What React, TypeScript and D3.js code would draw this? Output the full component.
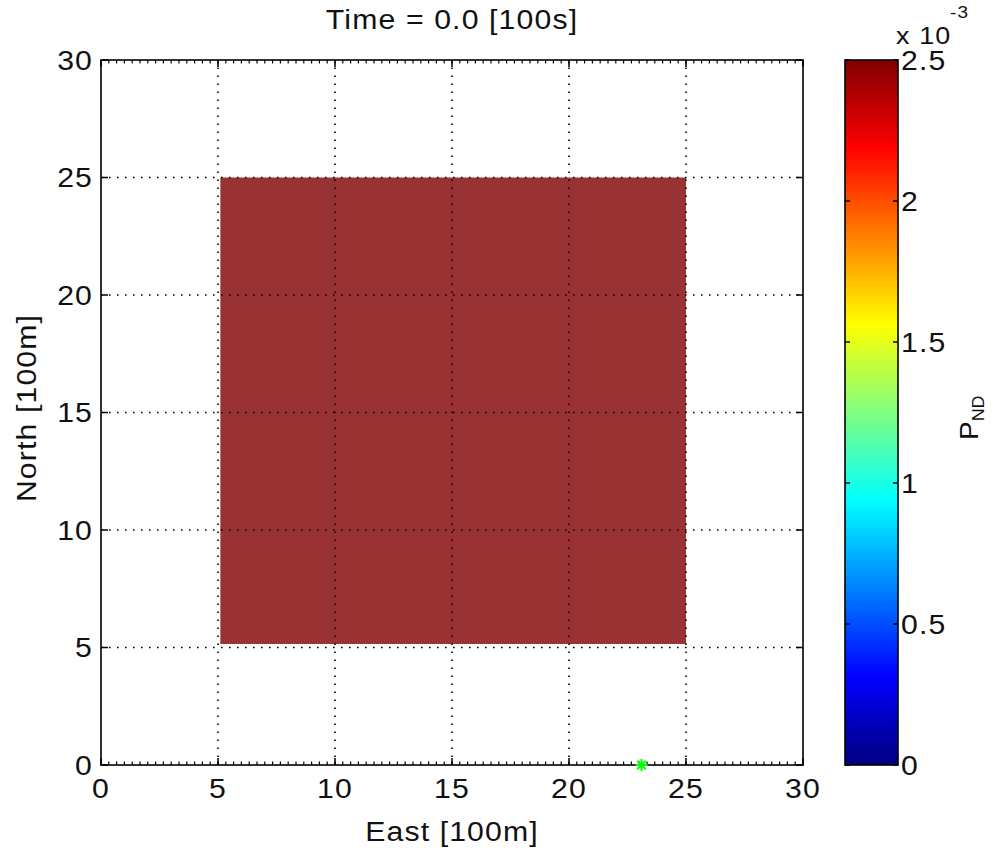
import React from "react";
import * as d3 from "d3";

// axis ticks (in units of 100 m)
const xTicks = [0, 5, 10, 15, 20, 25, 30];
const yTicks = [0, 5, 10, 15, 20, 25, 30];
// colorbar ticks (x 10^-3)
const cbTicks = [0, 0.5, 1, 1.5, 2, 2.5];
const cbTickLabels = ["0", "0.5", "1", "1.5", "2", "2.5"];

// search region (east/north extent) and its P_ND value (x 10^-3)
const regionEast = [5.1, 25];
const regionNorth = [5.15, 25];
const regionValue = 2.5;

// sensor position
const sensorEast = [23.1];
const sensorNorth = [0];

const W = 995, H = 854;
const plot = { left: 101, right: 803, top: 60, bottom: 765 };
const cb = { left: 845, right: 898 };
const FONT = "'Liberation Sans', Arial, Helvetica, sans-serif";
const SX = 1.12; // the original text is a bit stretched horizontally

const jet = (t: number) => {
  const c = (v: number) => Math.max(0, Math.min(1, v));
  const r = c(1.5 - Math.abs(4 * t - 3));
  const g = c(1.5 - Math.abs(4 * t - 2));
  const b = c(1.5 - Math.abs(4 * t - 1));
  return d3.rgb(r * 255, g * 255, b * 255).formatHex();
};

function Txt(props: { x: number; y: number; anchor?: string; rotate?: number; size?: number; children: any }) {
  const { x, y, anchor = "middle", rotate = 0, size = 27 } = props;
  return (
    <g transform={`translate(${x},${y}) rotate(${rotate}) scale(${SX},1)`}>
      <text x={0} y={0} textAnchor={anchor} fontFamily={FONT} fontSize={size} letterSpacing={1} fill="#111">
        {props.children}
      </text>
    </g>
  );
}

export default function App() {
  const x = d3.scaleLinear().domain([0, 30]).range([plot.left, plot.right]);
  const y = d3.scaleLinear().domain([0, 30]).range([plot.bottom, plot.top]);
  const cbY = d3.scaleLinear().domain([0, 2.5]).range([plot.bottom, plot.top]);
  const colorT = d3.scaleLinear().domain([0, 2.5]).range([0, 1]).clamp(true);

  const minor = d3.range(0, 30.001, 1 / 3);
  const stops = d3.range(0, 1.0001, 1 / 64);
  const tickLen = 7;

  return (
    <svg width={W} height={H} style={{ position: "absolute", left: 0, top: 0, background: "#fff" }}>
      <defs>
        <linearGradient id="jet" x1="0" y1="1" x2="0" y2="0">
          {stops.map((t, i) => (
            <stop key={i} offset={t} stopColor={jet(t)} />
          ))}
        </linearGradient>
      </defs>
      <rect width={W} height={H} fill="#fff" />

      {/* search region */}
      <rect
        x={x(regionEast[0])}
        y={y(regionNorth[1])}
        width={x(regionEast[1]) - x(regionEast[0])}
        height={y(regionNorth[0]) - y(regionNorth[1])}
        fill={jet(colorT(regionValue))}
        fillOpacity={0.8}
      />

      {/* grid */}
      <g stroke="#000" strokeWidth={1.6} strokeDasharray="1.6,6.4">
        {xTicks.slice(1, -1).map((t) => (
          <line key={"gx" + t} x1={x(t)} x2={x(t)} y1={plot.bottom} y2={plot.top} />
        ))}
        {yTicks.slice(1, -1).map((t) => (
          <line key={"gy" + t} x1={plot.left} x2={plot.right} y1={y(t)} y2={y(t)} />
        ))}
      </g>

      {/* minor ticks on x */}
      <g stroke="#000" strokeWidth={1.2}>
        {minor.map((t, i) => (
          <g key={"m" + i}>
            <line x1={x(t)} x2={x(t)} y1={plot.bottom} y2={plot.bottom - 3.5} />
            <line x1={x(t)} x2={x(t)} y1={plot.top} y2={plot.top + 3.5} />
          </g>
        ))}
      </g>

      {/* major ticks */}
      <g stroke="#000" strokeWidth={1.5}>
        {xTicks.map((t) => (
          <g key={"tx" + t}>
            <line x1={x(t)} x2={x(t)} y1={plot.bottom} y2={plot.bottom - tickLen} />
            <line x1={x(t)} x2={x(t)} y1={plot.top} y2={plot.top + tickLen} />
          </g>
        ))}
        {yTicks.map((t) => (
          <g key={"ty" + t}>
            <line x1={plot.left} x2={plot.left + tickLen} y1={y(t)} y2={y(t)} />
            <line x1={plot.right} x2={plot.right - tickLen} y1={y(t)} y2={y(t)} />
          </g>
        ))}
      </g>

      {/* axes box */}
      <rect x={plot.left} y={plot.top} width={plot.right - plot.left} height={plot.bottom - plot.top}
        fill="none" stroke="#000" strokeWidth={1.6} />

      {/* sensor */}
      {sensorEast.map((e, i) => {
        const cx = x(e), cy = y(sensorNorth[i]), r = 6;
        return (
          <g key={"s" + i} stroke="#00ff00" strokeWidth={2}>
            <line x1={cx - r} x2={cx + r} y1={cy} y2={cy} />
            <line x1={cx} x2={cx} y1={cy - r} y2={cy + r} />
            <line x1={cx - r * 0.7} x2={cx + r * 0.7} y1={cy - r * 0.7} y2={cy + r * 0.7} />
            <line x1={cx - r * 0.7} x2={cx + r * 0.7} y1={cy + r * 0.7} y2={cy - r * 0.7} />
          </g>
        );
      })}

      {/* tick labels */}
      {xTicks.map((t) => (
        <Txt key={"lx" + t} x={x(t)} y={798}>{String(t)}</Txt>
      ))}
      {yTicks.map((t) => (
        <Txt key={"ly" + t} x={93} y={y(t) + 9.5} anchor="end">{String(t)}</Txt>
      ))}

      {/* titles */}
      <Txt x={452} y={29}>Time = 0.0 [100s]</Txt>
      <Txt x={452} y={841}>East [100m]</Txt>
      <Txt x={36} y={408} rotate={-90}>North [100m]</Txt>

      {/* colorbar */}
      <rect x={cb.left} y={plot.top} width={cb.right - cb.left} height={plot.bottom - plot.top} fill="url(#jet)" />
      <g stroke="#000" strokeWidth={1.5}>
        {cbTicks.map((t) => (
          <g key={"ct" + t}>
            <line x1={cb.left} x2={cb.left + 5} y1={cbY(t)} y2={cbY(t)} />
            <line x1={cb.right} x2={cb.right - 5} y1={cbY(t)} y2={cbY(t)} />
          </g>
        ))}
      </g>
      <rect x={cb.left} y={plot.top} width={cb.right - cb.left} height={plot.bottom - plot.top}
        fill="none" stroke="#000" strokeWidth={1.6} />
      {cbTicks.map((t, i) => (
        <Txt key={"cl" + t} x={901} y={cbY(t) + 9.5} anchor="start">{cbTickLabels[i]}</Txt>
      ))}
      <Txt x={896} y={44} anchor="start" size={24}>x 10</Txt>
      <Txt x={950} y={18} anchor="start" size={17}>-3</Txt>
      <g transform="translate(978,440) rotate(-90)">
        <text fontFamily={FONT} fontSize={25} fill="#111" transform={`scale(${SX},1)`}>
          P<tspan fontSize={16} dy={6}>ND</tspan>
        </text>
      </g>
    </svg>
  );
}
